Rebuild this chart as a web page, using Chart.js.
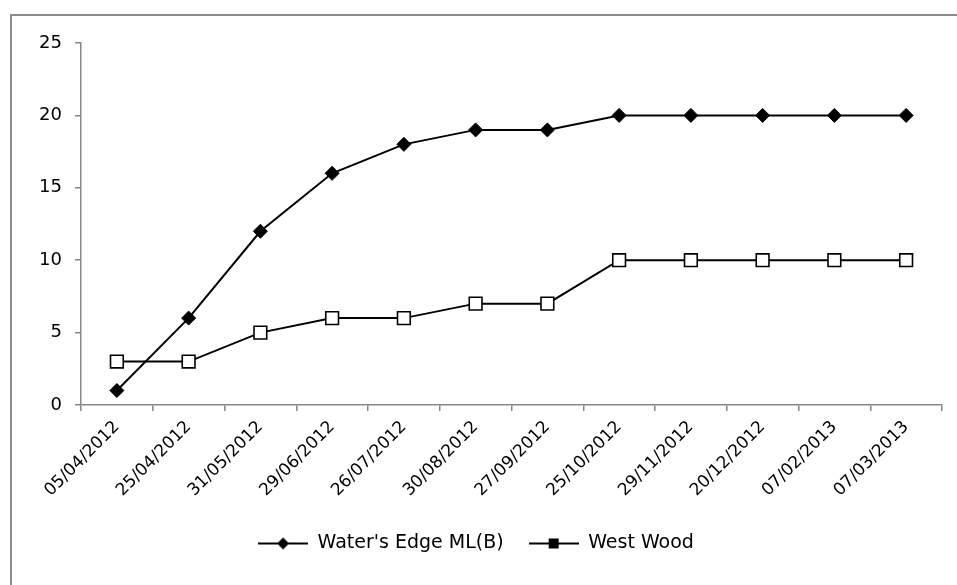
<!DOCTYPE html>
<html>
<head>
<meta charset="utf-8">
<script src="https://cdn.jsdelivr.net/npm/chart.js@4"></script>
<style>
  html, body { margin: 0; padding: 0; background: #fff; }
  #wrap { width: 957px; height: 585px; position: relative; }
</style>
</head>
<body>
<div id="wrap"><canvas id="myChart"></canvas></div>
<script>
// dates des relevés
const dates = ['05/04/2012', '25/04/2012', '31/05/2012', '29/06/2012', '26/07/2012', '30/08/2012',
  '27/09/2012', '25/10/2012', '29/11/2012', '20/12/2012', '07/02/2013', '07/03/2013'];
const watersEdge = [1, 6, 12, 16, 18, 19, 19, 20, 20, 20, 20, 20];
const westWood = [3, 3, 5, 6, 6, 7, 7, 10, 10, 10, 10, 10];
const yTicks = [0, 5, 10, 15, 20, 25];

const axisColor = '#868686';
const police = "'DejaVu Sans', sans-serif";

// petite image ligne + marqueur pour la légende
function legendIcon(type) {
  const c = document.createElement('canvas');
  c.width = 50; c.height = 16;
  const g = c.getContext('2d');
  g.strokeStyle = '#000';
  g.fillStyle = '#000';
  g.lineWidth = 2;
  g.beginPath(); g.moveTo(0, 8); g.lineTo(50, 8); g.stroke();
  if (type === 'diamond') {
    g.beginPath(); g.moveTo(25, 2); g.lineTo(31, 8); g.lineTo(25, 14); g.lineTo(19, 8); g.closePath(); g.fill();
  } else {
    g.fillRect(20, 3, 10, 10);
  }
  return c;
}
const icons = [legendIcon('diamond'), legendIcon('square')];

// cadre gris autour du graphique
const cadre = {
  id: 'cadre',
  beforeDraw(chart) {
    const ctx = chart.ctx;
    ctx.save();
    ctx.fillStyle = '#fff';
    ctx.fillRect(0, 0, chart.width, chart.height);
    ctx.strokeStyle = '#8c8c8c';
    ctx.lineWidth = 2;
    ctx.strokeRect(11, 15, chart.width + 20, chart.height + 20);
    ctx.restore();
  }
};

const ctx = document.getElementById('myChart');
new Chart(ctx, {
  type: 'line',
  data: {
    labels: dates,
    datasets: [{
      label: "Water's Edge ML(B)",
      data: watersEdge,
      borderColor: '#000',
      backgroundColor: '#000',
      borderWidth: 2,
      pointStyle: 'rectRot',
      pointRadius: 7,
      pointHoverRadius: 7,
      pointBackgroundColor: '#000',
      pointBorderColor: '#000',
      pointBorderWidth: 1,
      tension: 0
    }, {
      label: 'West Wood',
      data: westWood,
      borderColor: '#000',
      backgroundColor: '#fff',
      borderWidth: 2,
      pointStyle: 'rect',
      pointRadius: 9,
      pointHoverRadius: 9,
      pointBackgroundColor: '#fff',
      pointBorderColor: '#000',
      pointBorderWidth: 1.6,
      tension: 0
    }]
  },
  options: {
    responsive: true,
    maintainAspectRatio: false,
    animation: false,
    layout: { padding: { left: 10, right: 15, top: 43, bottom: 22 } },
    plugins: {
      tooltip: { enabled: false },
      legend: {
        position: 'bottom',
        labels: {
          usePointStyle: true,
          pointStyleWidth: 50,
          padding: 25,
          color: '#000',
          font: { family: police, size: 19 },
          generateLabels(chart) {
            return chart.data.datasets.map((ds, i) => ({
              text: ds.label,
              pointStyle: icons[i],
              fillStyle: '#000',
              strokeStyle: '#000',
              lineWidth: 0,
              hidden: false,
              datasetIndex: i,
              fontColor: '#000'
            }));
          }
        }
      }
    },
    scales: {
      x: {
        offset: true,
        afterFit(scale) { scale.height = 104; },
        grid: {
          offset: true,
          drawOnChartArea: false,
          tickLength: 6,
          color: axisColor,
          lineWidth: 1.5
        },
        border: { color: axisColor, width: 1.5 },
        ticks: {
          color: '#000',
          font: { family: police, size: 17 },
          maxRotation: 45,
          minRotation: 45,
          autoSkip: false,
          padding: 6
        }
      },
      y: {
        min: 0,
        max: 25,
        afterFit(scale) { scale.width = 71; },
        afterBuildTicks(scale) { scale.ticks = yTicks.map(v => ({ value: v })); },
        grid: {
          drawOnChartArea: false,
          tickLength: 6,
          color: axisColor,
          lineWidth: 1.5
        },
        border: { color: axisColor, width: 1.5 },
        ticks: {
          color: '#000',
          font: { family: police, size: 18 },
          padding: 13
        }
      }
    }
  },
  plugins: [cadre]
});
</script>
</body>
</html>
